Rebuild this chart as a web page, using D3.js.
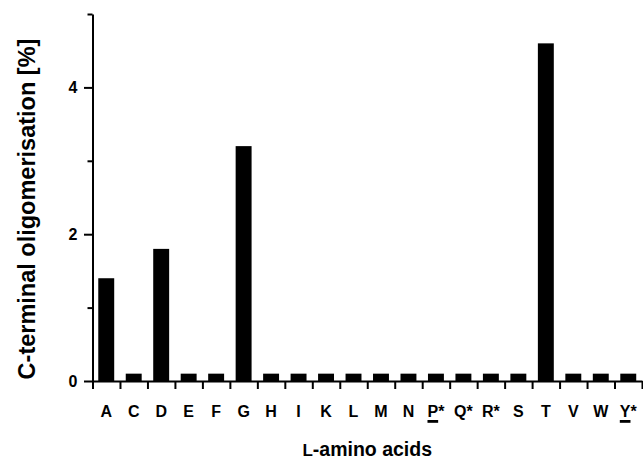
<!DOCTYPE html>
<html>
<head>
<meta charset="utf-8">
<script src="https://cdn.jsdelivr.net/npm/d3@7"></script>
<style>
  body { margin: 0; background: #fff; }
  svg { display: block; }
  text { font-family: "Liberation Sans", Arial, sans-serif; font-weight: bold; fill: #000; }
</style>
</head>
<body>
<svg id="chart" width="643" height="460"></svg>
<script>
const categories = ["A","C","D","E","F","G","H","I","K","L","M","N","P*","Q*","R*","S","T","V","W","Y*"];
const values     = [1.4, 0.1, 1.8, 0.1, 0.1, 3.2, 0.1, 0.1, 0.1, 0.1, 0.1, 0.1, 0.1, 0.1, 0.1, 0.1, 4.6, 0.1, 0.1, 0.1];
const underlined = ["P*","Y*"];
const yTicks      = [0, 1, 2, 3, 4, 5];
const yTickLabels = [0, 2, 4];
const yTitle = "C-terminal oligomerisation [%]";
const xTitleSmallCap = "L";
const xTitleRest = "-amino acids";

(function () {
const svg = d3.select("#chart");
const mLeft = 92.5, mRight = 642, mTop = 14, mBottom = 381;

const x = d3.scaleBand().domain(categories).range([mLeft, mRight]).paddingInner(0).paddingOuter(0);
const xIdx = d3.scaleLinear().domain([0, categories.length]).range([mLeft, mRight]);
const y = d3.scaleLinear().domain([0, 5]).range([mBottom, mTop]);

// bars
const barW = x.bandwidth() * 0.58;
svg.append("g").selectAll("rect").data(categories).join("rect")
  .attr("x", (d) => x(d) + (x.bandwidth() - barW) / 2)
  .attr("width", barW)
  .attr("y", (d, i) => y(values[i]))
  .attr("height", (d, i) => y(0) - y(values[i]))
  .attr("fill", "#000");

// x axis: boundary ticks
const gx = svg.append("g").attr("transform", `translate(0,${mBottom})`)
  .call(d3.axisBottom(xIdx).tickValues(d3.range(0, categories.length + 1)).tickSize(8).tickSizeOuter(0).tickFormat(""));
gx.select(".domain").attr("stroke", "#000").attr("stroke-width", 2);
gx.selectAll(".tick line").attr("stroke", "#000").attr("stroke-width", 2);

// x labels
const gxl = svg.append("g").attr("transform", `translate(0,${mBottom})`)
  .call(d3.axisBottom(x).tickSize(0).tickPadding(0));
gxl.select(".domain").remove();
gxl.selectAll(".tick text").remove();
gxl.selectAll(".tick").each(function(d) {
  const t = d3.select(this).append("text")
    .attr("y", 35.5).attr("text-anchor", "middle")
    .style("font-size", "16px");
  const main = d.replace("*", "");
  const tm = t.append("tspan").text(main);
  if (d.includes("*")) t.append("tspan").text("*");
  if (underlined.includes(d)) {
    const node = tm.node();
    const sx = node.getStartPositionOfChar(0).x;
    const w = node.getComputedTextLength();
    d3.select(this).append("rect")
      .attr("x", sx).attr("y", 39).attr("width", w).attr("height", 2.8).attr("fill", "#000");
  }
});

// y axis
const gy = svg.append("g").attr("transform", `translate(${mLeft},0)`)
  .call(d3.axisLeft(y).tickValues(yTicks).tickSizeOuter(0)
    .tickFormat((d) => yTickLabels.includes(d) ? d : ""));
gy.select(".domain").attr("stroke", "#000").attr("stroke-width", 2);
gy.selectAll(".tick line")
  .attr("stroke", "#000").attr("stroke-width", 2)
  .attr("x2", (d) => yTickLabels.includes(d) ? -8.5 : -5);
gy.selectAll(".tick text").attr("x", -15).style("font-size", "16px");

// y title
svg.append("text")
  .attr("transform", `translate(35,${(35 + 383) / 2}) rotate(-90)`)
  .attr("text-anchor", "middle")
  .style("font-size", "23.5px")
  .text(yTitle);

// x title
const xt = svg.append("text")
  .attr("x", (mLeft + mRight) / 2).attr("y", 455.5)
  .attr("text-anchor", "middle")
  .style("font-size", "19.5px");
xt.append("tspan").style("font-size", "17px").text(xTitleSmallCap);
xt.append("tspan").text(xTitleRest);
})();
</script>
</body>
</html>
